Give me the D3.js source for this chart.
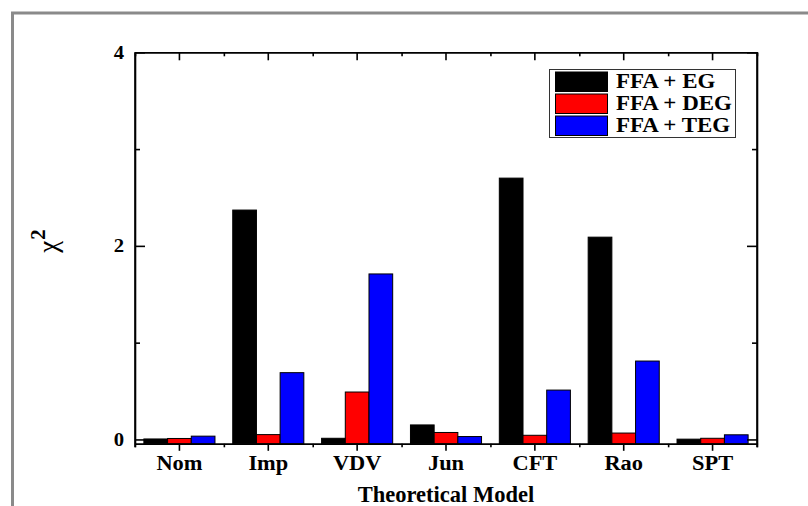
<!DOCTYPE html>
<html>
<head>
<meta charset="utf-8">
<script src="https://cdn.jsdelivr.net/npm/d3@7"></script>
<style>
  body { margin: 0; background: #fff; }
  svg { display: block; }
  text { font-family: "Liberation Serif", "Times New Roman", serif; }
</style>
</head>
<body>
<svg id="chart"></svg>
<script>
/* data */
const categories = ["Nom", "Imp", "VDV", "Jun", "CFT", "Rao", "SPT"]
const series = ["FFA + EG", "FFA + DEG", "FFA + TEG"]
const colors = ["#000000", "#ff0000", "#0000ff"]
const valuesEG  = [0.005, 2.37, 0.012, 0.15, 2.70, 2.09, 0.003]
const valuesDEG = [0.01, 0.05, 0.49, 0.072, 0.043, 0.066, 0.012]
const valuesTEG = [0.034, 0.69, 1.71, 0.03, 0.51, 0.81, 0.048]
const yMajor = [0, 2, 4]
const yMinor = [1, 3]

const W = 808, H = 506
const margin = {top: 52.3, right: 51, bottom: 62.2, left: 135}

const svg = d3.select("#chart").attr("width", W).attr("height", H)

// grey outer frame
svg.append("rect")
    .attr("x", 12.5).attr("y", 13)
    .attr("width", W + 20).attr("height", H + 20)
    .attr("fill", "none")
    .attr("stroke", "#8a8a8a")
    .attr("stroke-width", 3)

const x0 = d3.scaleBand()
    .domain(categories)
    .range([margin.left, W - margin.right])
    .paddingInner(0).paddingOuter(0)

const xEdge = d3.scaleLinear()
    .domain([0, categories.length])
    .range(x0.range())

const pad = x0.bandwidth() * 0.1
const x1 = d3.scaleBand()
    .domain(series)
    .range([pad, x0.bandwidth() - pad])

const y = d3.scaleLinear()
    .domain([-0.045, 4])
    .range([H - margin.bottom, margin.top])

const table = categories.map((c, i) => ({
    cat: c,
    vals: [valuesEG[i], valuesDEG[i], valuesTEG[i]]
}))

// bars
const group = svg.append("g").selectAll("g")
    .data(table)
    .enter()
    .append("g")
    .attr("transform", d => "translate(" + x0(d.cat) + ",0)")

group.selectAll("rect")
    .data(d => d.vals.map((v, j) => ({s: series[j], v: v, c: colors[j]})))
    .enter()
    .append("rect")
    .attr("x", d => x1(d.s))
    .attr("width", x1.bandwidth())
    .attr("y", d => y(d.v))
    .attr("height", d => y.range()[0] - y(d.v))
    .attr("fill", d => d.c)
    .attr("stroke", "#000")
    .attr("stroke-width", 1)

// axes
const styleAxis = g => {
    g.select(".domain").attr("stroke", "#000").attr("stroke-width", 1.6)
    g.selectAll(".tick line").attr("stroke", "#000").attr("stroke-width", 1.6)
}

const xB = y.range()[0], yT = y.range()[1]
const xL = x0.range()[0], xR = x0.range()[1]

// bottom
svg.append("g")
    .attr("transform", "translate(0," + xB + ")")
    .call(d3.axisBottom(xEdge).tickValues(d3.range(0, categories.length + 1)).tickSize(3.5).tickSizeOuter(0).tickFormat(""))
    .call(styleAxis)

const bottom = svg.append("g")
    .attr("transform", "translate(0," + xB + ")")
    .call(d3.axisBottom(x0).tickSize(7).tickSizeOuter(0).tickPadding(6))
    .call(styleAxis)
bottom.selectAll(".tick text")
    .attr("font-size", 20).attr("font-weight", "bold").attr("fill", "#000")
    .attr("font-family", "Liberation Serif, serif")
    .attr("y", 26).attr("dy", 0)
    .attr("transform", "scale(1.12,1)")

// top
svg.append("g")
    .attr("transform", "translate(0," + yT + ")")
    .call(d3.axisBottom(xEdge).tickValues(d3.range(0, categories.length + 1)).tickSize(4).tickSizeOuter(0).tickFormat(""))
    .call(styleAxis)
svg.append("g")
    .attr("transform", "translate(0," + yT + ")")
    .call(d3.axisBottom(x0).tickSize(8).tickSizeOuter(0).tickFormat(""))
    .call(styleAxis)

// left
const left = svg.append("g")
    .attr("transform", "translate(" + xL + ",0)")
    .call(d3.axisLeft(y).tickValues(yMajor).tickSize(-10).tickSizeOuter(0).tickPadding(11).tickFormat(d3.format("d")))
    .call(styleAxis)
left.select(".domain").attr("d", "M0," + (xB + 3.5) + "V" + yT)
left.selectAll(".tick text")
    .attr("font-size", 18).attr("font-weight", "bold").attr("fill", "#000")
    .attr("font-family", "Liberation Serif, serif")
    .attr("x", -11 / 1.15)
    .attr("transform", "scale(1.15,1)")
svg.append("g")
    .attr("transform", "translate(" + xL + ",0)")
    .call(d3.axisLeft(y).tickValues(yMinor).tickSize(-5).tickSizeOuter(0).tickFormat(""))
    .call(styleAxis)

// right
const right = svg.append("g")
    .attr("transform", "translate(" + xR + ",0)")
    .call(d3.axisRight(y).tickValues(yMajor).tickSize(-10).tickSizeOuter(0).tickFormat(""))
    .call(styleAxis)
right.select(".domain").attr("d", "M0," + (xB + 3.5) + "V" + yT)
svg.append("g")
    .attr("transform", "translate(" + xR + ",0)")
    .call(d3.axisRight(y).tickValues(yMinor).tickSize(-5).tickSizeOuter(0).tickFormat(""))
    .call(styleAxis)

// axis titles
svg.append("text")
    .attr("x", (xL + xR) / 2).attr("y", 501.5)
    .attr("text-anchor", "middle")
    .attr("font-size", 22.5).attr("font-weight", "bold")
    .text("Theoretical Model")

const yTitle = svg.append("text")
    .attr("transform", "translate(57,241) rotate(-90)")
    .attr("text-anchor", "middle")
    .attr("font-size", 27)
yTitle.append("tspan").text("χ")
yTitle.append("tspan").attr("dy", -12).attr("dx", 1).attr("font-size", 21).attr("font-weight", "bold").text("2")

// legend
const lg = svg.append("g").attr("transform", "translate(549.5,69.5)")
lg.append("rect")
    .attr("width", 186).attr("height", 68)
    .attr("fill", "#fff").attr("stroke", "#333").attr("stroke-width", 1)

const item = lg.selectAll("g.item")
    .data(series)
    .enter()
    .append("g")
    .attr("class", "item")
    .attr("transform", (d, i) => "translate(0," + (i * 22) + ")")

item.append("rect")
    .attr("x", 6).attr("y", 2.5)
    .attr("width", 52).attr("height", 19.5)
    .attr("fill", (d, i) => colors[i])
    .attr("stroke", "#000").attr("stroke-width", 1)

item.append("text")
    .attr("x", 66.5 / 1.12).attr("y", 19)
    .attr("transform", "scale(1.12,1)")
    .attr("font-size", 20.5).attr("font-weight", "bold")
    .text(d => d)
</script>
</body>
</html>
